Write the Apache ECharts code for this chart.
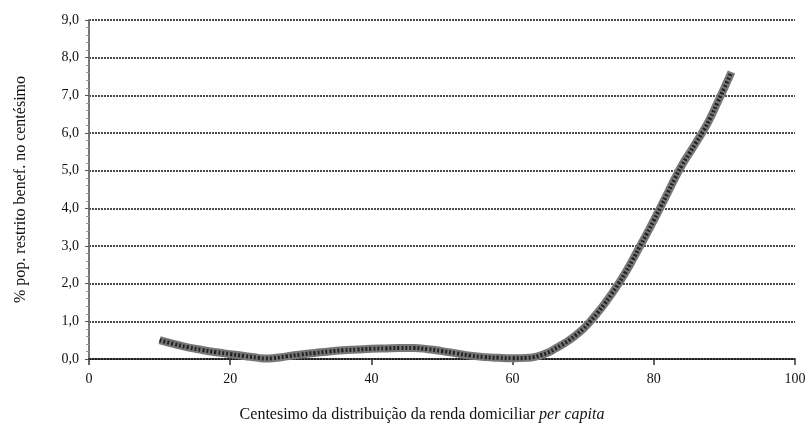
<!DOCTYPE html>
<html><head><meta charset="utf-8">
<script src="https://cdn.jsdelivr.net/npm/echarts@6/dist/echarts.min.js"></script>
<style>html,body{margin:0;padding:0;background:#fff}#c{width:811px;height:435px}</style>
</head><body><div id="c"></div>
<script>
const centiles = [10,12,14,16,18,20,22,24,25,26,28,30,32,34,36,38,40,42,44,46,48,50,52,54,56,58,60,62,63,64,65,66,67,68,69,70,71,72,73,74,75,76,77,78,79,80,81,82,83,84,85,86,87,88,89,90,91];
const share = [0.50,0.40,0.31,0.24,0.18,0.13,0.08,0.03,0.01,0.02,0.07,0.12,0.16,0.20,0.23,0.25,0.27,0.28,0.29,0.29,0.26,0.21,0.15,0.09,0.05,0.03,0.02,0.03,0.05,0.10,0.17,0.27,0.38,0.50,0.64,0.80,1.00,1.22,1.46,1.72,2.00,2.30,2.63,2.98,3.32,3.68,4.05,4.42,4.80,5.15,5.45,5.75,6.05,6.40,6.80,7.20,7.62];
const yTicks = [0,1,2,3,4,5,6,7,8,9];
const xTicks = [0,20,40,60,80,100];
const yTitle = '% pop. restrito benef. no centésimo';
const xTitleA = 'Centesimo da distribuição da renda domiciliar ';
const xTitleB = 'per capita';

const data = centiles.map((c,i)=>[c, share[i]]);
const chart = echarts.init(document.getElementById('c'));
const serif = '"Liberation Serif","DejaVu Serif",serif';
chart.setOption({
  animation:false,
  grid:{left:89,right:16,top:20,bottom:76},
  xAxis:{
    type:'value', min:xTicks[0], max:xTicks[xTicks.length-1], interval:20,
    axisLine:{show:true,lineStyle:{color:'#111',type:[2,1],width:1.5}},
    axisTick:{show:true,length:6,inside:false,lineStyle:{color:'#333',width:1.5}},
    splitLine:{show:false},
    axisLabel:{fontFamily:serif,fontSize:14,color:'#111',margin:13},
    name:'{a|'+xTitleA+'}{b|'+xTitleB+'}', nameLocation:'middle', nameGap:48,
    nameTextStyle:{rich:{a:{fontFamily:serif,fontSize:16,color:'#111'},b:{fontFamily:serif,fontSize:16,color:'#111',fontStyle:'italic'}},padding:[0,40,0,0]}
  },
  yAxis:{
    type:'value', min:yTicks[0], max:yTicks[yTicks.length-1], interval:1,
    axisLine:{show:true,lineStyle:{color:'#777',width:2}},
    axisTick:{show:true,length:4,lineStyle:{color:'#555'}},
    minorTick:{show:true,splitNumber:5,length:3,lineStyle:{color:'#999'}},
    splitLine:{show:true,lineStyle:{color:'#111',type:[2,1],width:1.5}},
    axisLabel:{fontFamily:serif,fontSize:14,color:'#111',margin:10,formatter:v=>v.toFixed(1).replace('.',',')},
    name:yTitle, nameLocation:'middle', nameGap:60, nameRotate:90,
    nameTextStyle:{fontFamily:serif,fontSize:16,color:'#111'}
  },
  series:[
    {type:'line',data:data,smooth:true,showSymbol:false,lineStyle:{color:'#777',width:8}},
    {type:'line',data:data,smooth:true,showSymbol:false,lineStyle:{color:'#222',width:4,type:[2,2]}}
  ]
});
</script></body></html>
